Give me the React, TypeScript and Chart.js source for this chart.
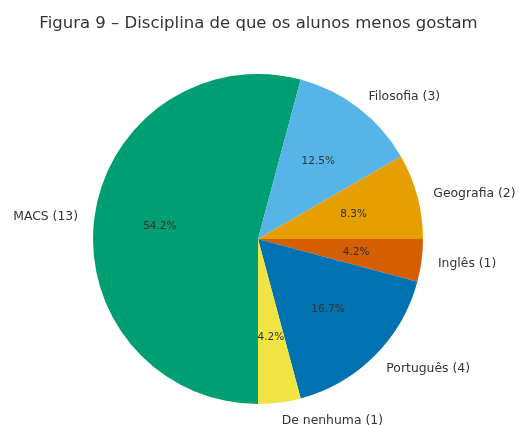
import React, { useEffect, useRef } from "react";
import { Chart, registerables } from "chart.js";

Chart.register(...registerables);

const titleText = "Figura 9 – Disciplina de que os alunos menos gostam";
// Clockwise from 3 o'clock (matplotlib counter-clockwise order reversed)
const categories = ["Inglês", "Português", "De nenhuma", "MACS", "Filosofia", "Geografia"];
const counts = [1, 4, 1, 13, 3, 2];
const colors = ["#D55E00", "#0072B2", "#F0E442", "#009E73", "#56B4E9", "#E69F00"];

const FONT = "'DejaVu Sans', sans-serif";
const TEXT_COLOR = "#333333";

const labelPlugin = {
  id: "pieLabels",
  afterDraw(chart: any) {
    const ctx = chart.ctx;
    const meta = chart.getDatasetMeta(0);
    const total = counts.reduce((a, b) => a + b, 0);
    ctx.save();
    // title
    ctx.fillStyle = TEXT_COLOR;
    ctx.font = `16.5px ${FONT}`;
    ctx.textAlign = "center";
    ctx.textBaseline = "alphabetic";
    ctx.fillText(titleText, 258.5, 28);

    meta.data.forEach((arc: any, i: number) => {
      const { x, y, startAngle, endAngle, outerRadius } = arc.getProps(
        ["x", "y", "startAngle", "endAngle", "outerRadius"],
        true
      );
      const mid = (startAngle + endAngle) / 2;
      const cos = Math.cos(mid);
      const sin = Math.sin(mid);
      // outer label
      const lx = x + 1.1 * outerRadius * cos;
      const ly = y + 1.1 * outerRadius * sin + 1.5;
      ctx.font = `12.4px ${FONT}`;
      ctx.fillStyle = TEXT_COLOR;
      ctx.textAlign = lx >= x ? "left" : "right";
      ctx.textBaseline = "middle";
      ctx.fillText(`${categories[i]} (${counts[i]})`, lx, ly);
      // percentage
      const px = x + 0.6 * outerRadius * cos;
      const py = y + 0.6 * outerRadius * sin + 0.5;
      ctx.font = `10.5px ${FONT}`;
      ctx.textAlign = "center";
      ctx.fillStyle = TEXT_COLOR;
      ctx.fillText(`${((counts[i] / total) * 100).toFixed(1)}%`, px, py);
    });
    ctx.restore();
  },
};

export default function App() {
  const ref = useRef<HTMLCanvasElement>(null);
  useEffect(() => {
    document.body.style.margin = "0";
    const chart = new Chart(ref.current as HTMLCanvasElement, {
      type: "pie",
      data: {
        labels: categories,
        datasets: [
          {
            data: counts,
            backgroundColor: colors,
            borderWidth: 0,
          },
        ],
      },
      options: {
        animation: false,
        responsive: false,
        rotation: 90,
        layout: { padding: { left: 93, right: 96, top: 74, bottom: 21 } },
        plugins: {
          legend: { display: false },
          tooltip: { enabled: false },
          title: { display: false },
        },
      },
      plugins: [labelPlugin],
    });
    return () => chart.destroy();
  }, []);
  return <canvas ref={ref} width={519} height={425} style={{ display: "block" }} />;
}
